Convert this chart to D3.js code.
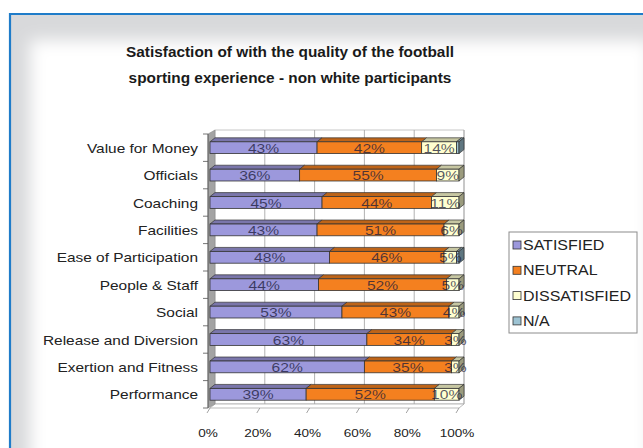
<!DOCTYPE html>
<html>
<head>
<meta charset="utf-8">
<script src="https://cdn.jsdelivr.net/npm/d3@7"></script>
<style>
  html, body { margin: 0; padding: 0; background: #fff; }
  svg { display: block; font-family: "Liberation Sans", Arial, sans-serif; }
</style>
</head>
<body>
<svg id="chart" width="643" height="448"></svg>
<script>
// Survey aspects, top to bottom
const categories = [
  "Value for Money", "Officials", "Coaching", "Facilities",
  "Ease of Participation", "People & Staff", "Social",
  "Release and Diversion", "Exertion and Fitness", "Performance"
];
const seriesNames = ["SATISFIED", "NEUTRAL", "DISSATISFIED", "N/A"];
// Percent of respondents per aspect
const satisfied    = [43, 36, 45, 43, 48, 44, 53, 63, 62, 39];
const neutral      = [42, 55, 44, 51, 46, 52, 43, 34, 35, 52];
const dissatisfied = [14,  9, 11,  6,  5,  5,  4,  3,  3, 10];
const notAnswered  = [ 1,  0,  0,  0,  1,  0,  0,  0,  0,  0];
const xTicks = [0, 0.2, 0.4, 0.6, 0.8, 1];
const colors = ["#9c98dc", "#f4801f", "#ffffd0", "#9dc3d3"];

const svg = d3.select("#chart");
const W = 643, H = 448;
const STRETCH = 1.15;   // the chart's text is set slightly wide

// ---- framed panel with soft inner shadow ----
const defs = svg.append("defs");
defs.append("filter").attr("id", "soft")
  .attr("x", "-20%").attr("y", "-20%").attr("width", "140%").attr("height", "140%")
  .append("feGaussianBlur").attr("stdDeviation", 8);
svg.append("rect").attr("x", 11).attr("y", 15).attr("width", W).attr("height", H)
  .attr("fill", "#d8d9db");
svg.append("rect").attr("x", 30).attr("y", 40).attr("width", 620).attr("height", 440)
  .attr("fill", "#fff").attr("filter", "url(#soft)");
svg.append("path").attr("d", `M10,${H} L10,14 L${W},14`)
  .attr("fill", "none").attr("stroke", "#1f7cc9").attr("stroke-width", 2.2);

// ---- title ----
const title = svg.append("text").attr("text-anchor", "middle")
  .attr("transform", "translate(290,0) scale(1.04,1)")
  .attr("font-weight", "bold").attr("font-size", 14.8).attr("fill", "#1a1a1a");
title.append("tspan").attr("x", 0).attr("y", 57)
  .text("Satisfaction of with the quality of the football");
title.append("tspan").attr("x", 0).attr("y", 83)
  .text("sporting experience - non white participants");

// ---- scales ----
const x0 = 210, plotW = 249;
const dx = 5, dy = -4;           // 3D depth offset
const x = d3.scaleLinear().domain([0, 1]).range([x0, x0 + plotW]);
const y = d3.scaleBand().domain(categories).range([134, 408])
  .paddingInner(0.57).paddingOuter(0.285);
const bh = y.bandwidth();
const yTop = 134, yBot = 408;

// stacked, normalised to 100%
const rows = categories.map((c, i) => ({
  cat: c, SATISFIED: satisfied[i], NEUTRAL: neutral[i],
  DISSATISFIED: dissatisfied[i], "N/A": notAnswered[i]
}));
const stack = d3.stack().keys(seriesNames).offset(d3.stackOffsetExpand);
const layers = stack(rows);

// ---- walls and floor ----
const g = svg.append("g");
// back wall
g.append("path")
  .attr("d", `M${x(0) + dx},${yTop + dy} L${x(1) + dx},${yTop + dy} L${x(1) + dx},${yBot + dy} L${x(0) + dx},${yBot + dy} Z`)
  .attr("fill", "#fff").attr("stroke", "#b8b8b8").attr("stroke-width", 0.8);
// gridlines on back wall
g.selectAll("line.grid").data(xTicks.slice(1)).join("line")
  .attr("class", "grid")
  .attr("x1", d => x(d) + dx).attr("x2", d => x(d) + dx)
  .attr("y1", yTop + dy).attr("y2", yBot + dy)
  .attr("stroke", "#a8a8a8").attr("stroke-width", 0.9);
// floor
g.append("path")
  .attr("d", `M${x(0)},${yBot} L${x(1)},${yBot} L${x(1) + dx},${yBot + dy} L${x(0) + dx},${yBot + dy} Z`)
  .attr("fill", "#fff").attr("stroke", "#aaa").attr("stroke-width", 0.8);
// floor ticks
g.selectAll("line.ftick").data(xTicks).join("line")
  .attr("class", "ftick")
  .attr("x1", d => x(d)).attr("y1", yBot)
  .attr("x2", d => x(d) - 3).attr("y2", yBot + 5)
  .attr("stroke", "#999").attr("stroke-width", 0.9);
// side wall
g.append("path")
  .attr("d", `M${x(0) - 2},${yTop} L${x(0) + dx},${yTop + dy} L${x(0) + dx},${yBot + dy} L${x(0) - 2},${yBot} Z`)
  .attr("fill", "#a3a3a3").attr("stroke", "#8a8a8a").attr("stroke-width", 0.6);

// category axis ticks at band boundaries
const bounds = d3.range(categories.length + 1).map(i => yTop + i * y.step());
g.selectAll("line.ctick").data(bounds).join("line")
  .attr("class", "ctick")
  .attr("x1", x(0) - 7).attr("x2", x(0) - 2)
  .attr("y1", d => d).attr("y2", d => d)
  .attr("stroke", "#666").attr("stroke-width", 0.9);
g.append("line").attr("x1", x(0) - 2).attr("x2", x(0) - 2)
  .attr("y1", yTop).attr("y2", yBot).attr("stroke", "#555").attr("stroke-width", 0.9);

// category labels
g.selectAll("text.cat").data(categories).join("text")
  .attr("class", "cat")
  .attr("transform", d => `translate(198,${y(d) + bh / 2 + 5}) scale(${STRETCH},1)`)
  .attr("text-anchor", "end").attr("font-size", 13.4).attr("fill", "#222")
  .text(d => d);

// x tick labels
g.selectAll("text.xt").data(xTicks).join("text")
  .attr("class", "xt")
  .attr("transform", d => `translate(${x(d) - 2},437) scale(${STRETCH},1)`)
  .attr("text-anchor", "middle").attr("font-size", 11.8).attr("fill", "#222")
  .text(d => d3.format(".0%")(d));

// ---- 3D stacked bars ----
const bars = svg.append("g");
layers.forEach((layer, si) => {
  const base = d3.color(colors[si]);
  const gs = bars.append("g");
  layer.forEach(seg => {
    const cat = seg.data.cat;
    const a = x(seg[0]), b = x(seg[1]), yy = y(cat);
    if (b - a <= 0.01) return;
    // top face
    gs.append("path")
      .attr("d", `M${a},${yy} L${a + dx},${yy + dy} L${b + dx},${yy + dy} L${b},${yy} Z`)
      .attr("fill", base.darker(0.7)).attr("stroke", "#333").attr("stroke-width", 0.7);
    // front face
    gs.append("rect").attr("x", a).attr("y", yy).attr("width", b - a).attr("height", bh)
      .attr("fill", base).attr("stroke", "#333").attr("stroke-width", 0.8);
  });
});
// right end faces, coloured by the last non-empty segment
categories.forEach((cat, i) => {
  const yy = y(cat);
  let si = layers.length - 1;
  while (si > 0 && layers[si][i][1] - layers[si][i][0] <= 0) si--;
  const b = x(layers[si][i][1]);
  bars.append("path")
    .attr("d", `M${b},${yy} L${b + dx},${yy + dy} L${b + dx},${yy + bh + dy} L${b},${yy + bh} Z`)
    .attr("fill", d3.color(colors[si]).darker(1.4)).attr("stroke", "#333").attr("stroke-width", 0.7);
});

// value labels (first three series)
const labels = svg.append("g").attr("font-size", 13.6).attr("text-anchor", "middle")
  .attr("fill", "#1b1b3a").attr("fill-opacity", 0.75);
layers.slice(0, 3).forEach((layer, si) => {
  const vals = [satisfied, neutral, dissatisfied][si];
  layer.forEach((seg, i) => {
    labels.append("text")
      .attr("transform", `translate(${(x(seg[0]) + x(seg[1])) / 2},${y(seg.data.cat) + bh / 2 + 5}) scale(${STRETCH},1)`)
      .text(vals[i] + "%");
  });
});

// ---- legend ----
const lg = svg.append("g");
lg.append("rect").attr("x", 509).attr("y", 232).attr("width", 128).attr("height", 101)
  .attr("fill", "#fff").attr("stroke", "#8c8c8c").attr("stroke-width", 1);
seriesNames.forEach((s, i) => {
  const cy = 245 + i * 25.3;
  lg.append("rect").attr("x", 513).attr("y", cy - 4).attr("width", 8).attr("height", 8)
    .attr("fill", colors[i]).attr("stroke", "#333").attr("stroke-width", 0.8);
  lg.append("text")
    .attr("transform", `translate(523,${cy + 5}) scale(${STRETCH},1)`)
    .attr("font-size", 13.9).attr("fill", "#222").text(s);
});
</script>
</body>
</html>
